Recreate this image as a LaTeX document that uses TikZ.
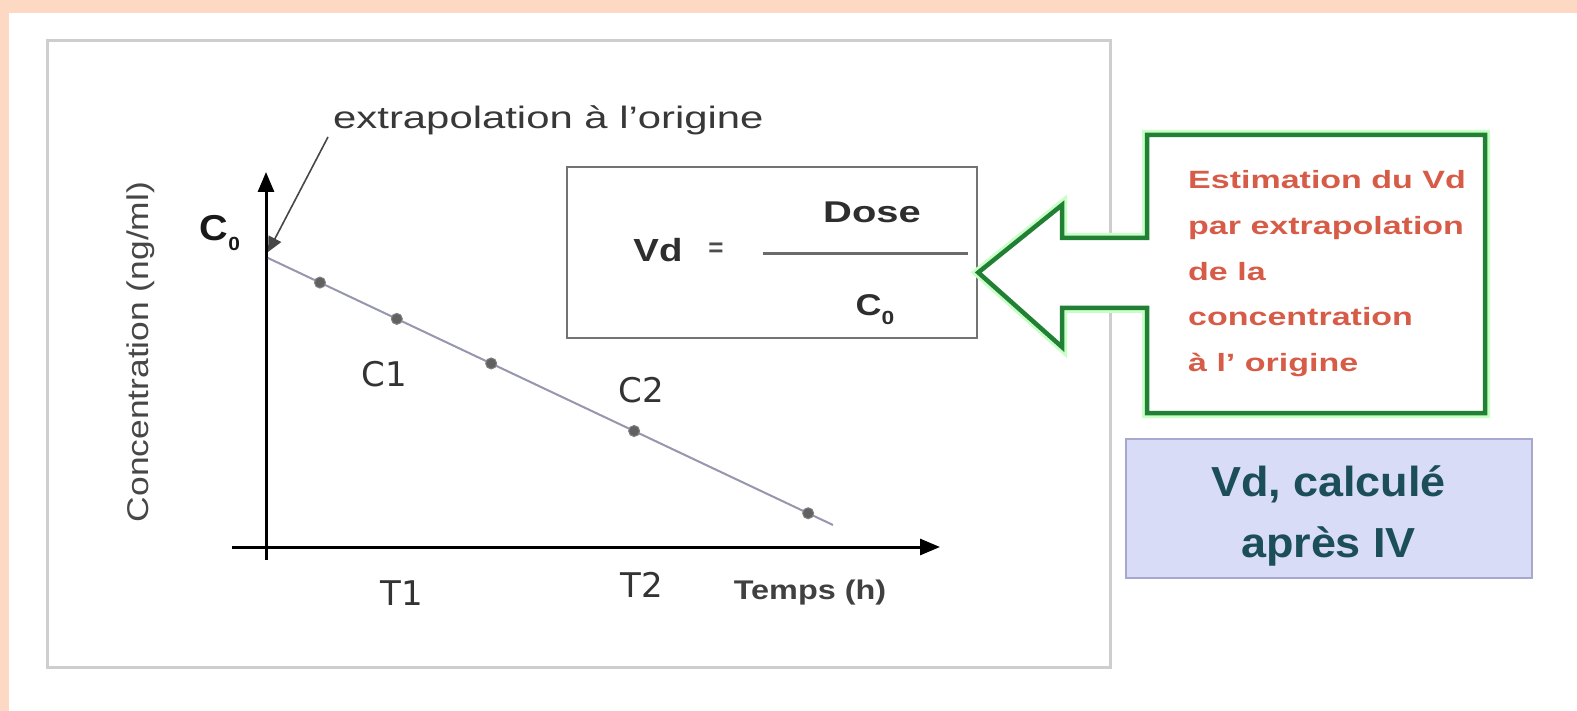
\documentclass[tikz,border=0pt]{standalone}
\usepackage{fontspec}
\usepackage{graphicx}
\setmainfont{Liberation Sans}
\newfontfamily\tickfont{DejaVu Sans}
\usetikzlibrary{arrows.meta, positioning}

\definecolor{peach}{RGB}{253,216,194}
\definecolor{framegray}{RGB}{206,206,206}
\definecolor{fitline}{RGB}{150,150,174}
\definecolor{calloutgreen}{RGB}{34,128,52}
\definecolor{calloutred}{RGB}{214,92,72}
\definecolor{ivfill}{RGB}{216,220,246}
\definecolor{ivdraw}{RGB}{168,168,206}
\definecolor{ivtext}{RGB}{28,78,90}
\newcommand\widen[2]{\scalebox{#1}[1]{#2}}
\newcommand\sub[1]{\raisebox{-0.3em}{\fontsize{19}{19}\selectfont #1}}

\begin{document}
\begin{tikzpicture}[x=1pt, y=-1pt,
  every node/.style={inner sep=0pt},
  ->, >={Triangle[length=20pt,width=16pt]},
  axis/.style={line width=3pt},
  sample/.style={circle, fill=black!62, draw=black!50, line width=1pt, minimum size=11pt},
  tick/.style={font=\tickfont\fontsize{34}{40}\selectfont, text=black!80},
  formula/.style={draw=black!55, line width=2.5pt, minimum width=410pt, minimum height=171pt},
  ivbox/.style={draw=ivdraw, fill=ivfill, line width=2pt, minimum width=406pt, minimum height=139pt},
  ivlabel/.style={align=center, text=ivtext, font=\bfseries\fontsize{42}{61}\selectfont}
]
\useasboundingbox (0,0) rectangle (1577,711);
\fill[white] (0,0) rectangle (1577,711);
\fill[peach] (0,0) rectangle (1577,13);
\fill[peach] (0,0) rectangle (9,711);

% Frame
\draw[-, framegray, line width=3pt] (47,41) rectangle (1110,667);

% Axes
\draw[axis] (266,560) -- (266,172);
\draw[axis] (232,547) -- (940,547);
\node[rotate=90, text=black!72] (ylab) at (141,352)
  {\widen{1.18}{\fontsize{30}{30}\selectfont Concentration (ng/ml)}};
\node[text=black!75] (temps) at (810,593)
  {\widen{1.2}{\bfseries\fontsize{27}{27}\selectfont Temps (h)}};

% Fit line and samples
\coordinate (c0) at (268,258);
\coordinate (fitend) at (833,525);
\draw[-, fitline, line width=2pt] (c0) -- (fitend)
  node[sample, pos=0.092] (s1) {}
  node[sample, pos=0.228] (s2) {}
  node[sample, pos=0.395] (s3) {}
  node[sample, pos=0.648] (s4) {}
  node[sample, pos=0.956] (s5) {};

\node[tick] (c1) at (384,374) {C1};
\node[tick] (c2) at (641,390) {C2};
\node[tick] (t1) at (402,593) {T1};
\node[tick] (t2) at (642,585) {T2};

% Extrapolation
\node[text=black!90] (c0lab) at (220,233)
  {\widen{1.1}{\bfseries\fontsize{36}{36}\selectfont C\sub{0}}};
\node[anchor=west, text=black!78] (extra) at (333,120)
  {\widen{1.35}{\fontsize{31}{31}\selectfont extrapolation à l'origine}};
\coordinate (leadtop) at (328,137);
\coordinate (c0mark) at (268,252);
\draw[black!72, line width=1.6pt, -{Triangle[length=15pt,width=14pt]}] (leadtop) -- (c0mark);

% Formula
\node[formula] (formbox) at (772,252.5) {};
\node[text=black!82] (vd) at (658,250) {\widen{1.2}{\bfseries\fontsize{32}{32}\selectfont Vd}};
\node[text=black!70] (eq) at (716,250) {\bfseries\fontsize{26}{26}\selectfont =};
\coordinate (barl) at (763,254);
\coordinate (barr) at (968,254);
\draw[-, black!58, line width=3pt] (barl) -- (barr);
\node[text=black!82] (dose) at (872,212) {\widen{1.33}{\bfseries\fontsize{30}{30}\selectfont Dose}};
\node[text=black!82] (cden) at (875,310) {\widen{1.2}{\bfseries\fontsize{30}{30}\selectfont C\sub{0}}};

% Callout
\coordinate (tip) at ([yshift=-20pt]formbox.east);
\draw[-, calloutgreen, line width=4.5pt, line join=miter, fill=white,
  preaction={draw=green!22, line width=10pt}]
  (tip) -- (1062,205) -- (1062,238) -- (1147,238) -- (1147,135) -- (1485,135)
  -- (1485,413) -- (1147,413) -- (1147,308) -- (1062,308) -- (1062,347) -- cycle;
\node[anchor=west, text=calloutred] (callout) at (1188,271)
  {\widen{1.36}{\bfseries\fontsize{25}{45.7}\selectfont\begin{tabular}{@{}l@{}}Estimation du Vd\\ par extrapolation\\ de la\\ concentration\\ à l' origine\end{tabular}}};

% IV box
\node[ivbox] (iv) at (1328.5,508.5) {};
\node[ivlabel] (ivlab) at ([yshift=-7pt]iv.center) {\widen{1.07}{Vd, calculé}\\ \widen{1.07}{après IV}};

\end{tikzpicture}
\end{document}
